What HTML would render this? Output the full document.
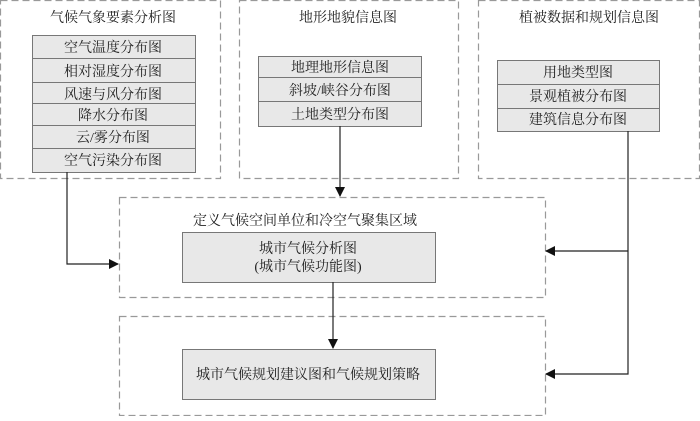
<!DOCTYPE html>
<html><head><meta charset="utf-8"><style>
body{margin:0;background:#fff}
text{font-family:"Liberation Serif","Noto Serif CJK SC",serif;fill:#222}
</style></head><body>
<svg width="700" height="416" viewBox="0 0 700 416" xmlns="http://www.w3.org/2000/svg">
<defs><marker id="a" markerWidth="10" markerHeight="10" refX="9" refY="5" orient="auto" markerUnits="userSpaceOnUse"><path d="M0,0 L10,5 L0,10 z" fill="#111"/></marker></defs>
<g fill="none" stroke="#999" stroke-width="1.2" stroke-dasharray="7,4">
<rect x="0.5" y="0.5" width="220" height="178"/>
<rect x="239.5" y="0.5" width="219" height="178"/>
<rect x="478.5" y="0.5" width="221" height="178"/>
<rect x="119.5" y="197.5" width="426" height="100"/>
<rect x="119.5" y="316.5" width="426" height="99"/>
</g>
<g fill="#e8e8e8" stroke="#777" stroke-width="1">
<rect x="32.5" y="35.5" width="163" height="23"/><rect x="32.5" y="58.5" width="163" height="24"/><rect x="32.5" y="82.5" width="163" height="21"/><rect x="32.5" y="103.5" width="163" height="22"/><rect x="32.5" y="125.5" width="163" height="23"/><rect x="32.5" y="148.5" width="163" height="24"/>
<rect x="258.5" y="56.5" width="163" height="21"/><rect x="258.5" y="77.5" width="163" height="24"/><rect x="258.5" y="101.5" width="163" height="25"/>
<rect x="497.5" y="60.5" width="162" height="24"/><rect x="497.5" y="84.5" width="162" height="24"/><rect x="497.5" y="108.5" width="162" height="23"/>
<rect x="182.5" y="232.5" width="253" height="50"/>
<rect x="182.5" y="349.5" width="253" height="50"/>
</g>
<g stroke="#222" stroke-width="1.2" fill="none">
<polyline points="67,172 67,264 118,264" marker-end="url(#a)"/>
<line x1="340" y1="126" x2="340" y2="196" marker-end="url(#a)"/>
<polyline points="628,131 628,374 546,374" marker-end="url(#a)"/>
<line x1="628" y1="251" x2="546" y2="251" marker-end="url(#a)"/>
<line x1="333" y1="282" x2="333" y2="348" marker-end="url(#a)"/>
</g>
<g font-size="14" text-anchor="middle">
<text x="113" y="22">气候气象要素分析图</text>
<text x="348" y="22">地形地貌信息图</text>
<text x="589" y="22">植被数据和规划信息图</text>
<text x="113" y="52">空气温度分布图</text><text x="113" y="76">相对湿度分布图</text><text x="113" y="99">风速与风分布图</text><text x="113" y="120">降水分布图</text><text x="113" y="142">云/雾分布图</text><text x="113" y="165">空气污染分布图</text>
<text x="340" y="72">地理地形信息图</text><text x="340" y="95">斜坡/峡谷分布图</text><text x="340" y="119">土地类型分布图</text>
<text x="578" y="77">用地类型图</text><text x="578" y="101">景观植被分布图</text><text x="578" y="124">建筑信息分布图</text>
<text x="305" y="225">定义气候空间单位和冷空气聚集区域</text>
<text x="308" y="253">城市气候分析图</text>
<text x="308" y="271">(城市气候功能图)</text>
<text x="308" y="379">城市气候规划建议图和气候规划策略</text>
</g>
</svg>
</body></html>
